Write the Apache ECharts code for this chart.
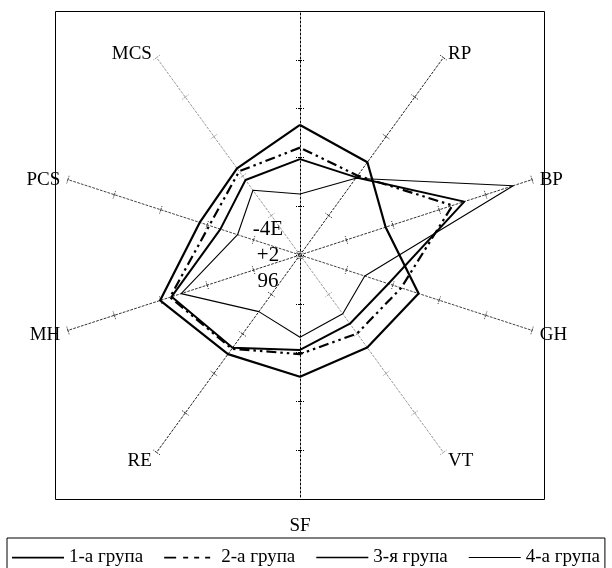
<!DOCTYPE html>
<html>
<head>
<meta charset="utf-8">
<script src="https://cdn.jsdelivr.net/npm/echarts@6/dist/echarts.min.js"></script>
<style>
html,body{margin:0;padding:0;background:#fff;}
#chart{width:612px;height:568px;}
</style>
</head>
<body>
<div id="chart"></div>
<script>
// Categories in clockwise order, starting at the top spoke
const categories = ['PF', 'RP', 'BP', 'GH', 'VT', 'SF', 'RE', 'MH', 'PCS', 'MCS'];
const groupNames = ['1-а група', '2-а група', '3-я група', '4-а група'];
const group1 = [53.3, 47.0, 36.9, 51.1, 46.9, 49.9, 50.2, 60.3, 43.2, 43.9];
const group2 = [44.0, 40.2, 65.7, 43.6, 39.8, 40.6, 47.5, 56.0, 39.1, 42.4];
const group3 = [39.3, 39.3, 70.8, 38.1, 34.8, 38.9, 47.0, 55.3, 34.3, 38.0];
const group4 = [25.0, 38.9, 91.9, 27.9, 29.8, 33.7, 28.7, 51.2, 26.9, 32.8];
const axisMin = 0;
const axisMax = 100;
const splitCount = 5;
const centerLabel = ['-4E', '+2', '96'];
const hiddenNames = ['PF'];

const CX = 300, CY = 255, R = 244;
const FONT = '"Liberation Serif", "Times New Roman", serif';

// ECharts places radar indicators counter-clockwise from startAngle
const toRadarOrder = arr => [arr[0]].concat(arr.slice(1).reverse());

const mainIndicators = toRadarOrder(categories).map(n => ({ name: n, min: axisMin, max: axisMax }));

// spokes: each a two-indicator radar (a diameter) with its own line style
const spokeStyles = [
  { angle: 90, color: '#000000' },
  { angle: 54, color: '#222222' },
  { angle: 18, color: '#333333' },
  { angle: -18, color: '#444444' },
  { angle: -54, color: '#9a9a9a' }
];

const radars = [{
  center: [CX, CY],
  radius: R,
  startAngle: 90,
  splitNumber: splitCount,
  indicator: mainIndicators,
  axisLine: { show: false },
  axisTick: { show: false },
  axisLabel: { show: false },
  splitLine: { show: false },
  splitArea: { show: false },
  nameGap: 8,
  axisName: {
    color: '#000',
    fontFamily: FONT,
    fontSize: 19,
    padding: [5, 0, 0, 0],
    formatter: function (name) {
      if (hiddenNames.indexOf(name) >= 0) return '';
      if (name === 'SF') return '{sf|SF}';
      return name;
    },
    rich: {
      sf: { padding: [5, 0, 0, 0], fontFamily: FONT, fontSize: 19, color: '#000' }
    }
  },
  silent: true
}];

spokeStyles.forEach(function (s) {
  [4, -4].forEach(function (len, k) {
    radars.push({
      center: [CX, CY],
      radius: R,
      startAngle: s.angle,
      splitNumber: splitCount,
      indicator: [{ name: '', min: axisMin, max: axisMax }, { name: '', min: axisMin, max: axisMax }],
      axisName: { show: false },
      axisLine: { show: k === 0, lineStyle: { color: s.color, width: 1, type: [2, 2] } },
      axisTick: { show: true, length: len, lineStyle: { color: s.color, width: 1, type: [2, 1] } },
      axisLabel: { show: false },
      splitLine: { show: false },
      splitArea: { show: false },
      silent: true
    });
  });
});

const groupData = [group1, group2, group3, group4];
const groupLines = [
  { width: 2.2, type: 'solid' },
  { width: 2.2, type: [10, 4, 2.5, 4, 2.5, 4] },
  { width: 2.0, type: 'solid' },
  { width: 1.1, type: 'solid' }
];

const series = groupData.map(function (vals, i) {
  return {
    type: 'radar',
    radarIndex: 0,
    name: groupNames[i],
    symbol: 'none',
    silent: true,
    z: 5,
    itemStyle: { color: '#000' },
    lineStyle: { color: '#000', width: groupLines[i].width, type: groupLines[i].type },
    data: [{ name: groupNames[i], value: toRadarOrder(vals) }]
  };
});

const boxTop = 'M0,0 M52,14 ';
const legendIcons = [
  'path://' + boxTop + 'M0,6.2 h52 v1.7 h-52 Z',
  'path://' + boxTop + 'M0,6.2 h12 v1.7 h-12 Z M19,6.2 h5 v1.7 h-5 Z M30,6.2 h5 v1.7 h-5 Z M41,6.2 h5 v1.7 h-5 Z',
  'path://' + boxTop + 'M0,6.2 h52 v1.6 h-52 Z',
  'path://' + boxTop + 'M0,6.4 h52 v1.2 h-52 Z'
];

const option = {
  animation: false,
  backgroundColor: '#fff',
  radar: radars,
  legend: {
    left: 7,
    top: 538,
    orient: 'horizontal',
    padding: [10, 5, 12, 5],
    itemGap: 21,
    itemWidth: 52,
    itemHeight: 14,
    borderColor: '#000',
    borderWidth: 1,
    selectedMode: false,
    itemStyle: { color: '#000', borderWidth: 0 },
    textStyle: { color: '#000', fontFamily: FONT, fontSize: 19 },
    data: groupNames.map((n, i) => ({ name: n, icon: legendIcons[i] }))
  },
  graphic: [
    {
      type: 'rect',
      z: -10,
      silent: true,
      shape: { x: 55.5, y: 11.5, width: 489, height: 488 },
      style: { fill: 'none', stroke: '#000', lineWidth: 1 }
    },
    {
      type: 'text',
      z: 10,
      silent: true,
      x: 268,
      y: 255,
      style: {
        text: centerLabel.join('\n'),
        fill: '#000',
        font: '21px ' + FONT,
        lineHeight: 26,
        align: 'center',
        verticalAlign: 'middle'
      }
    }
  ],
  series: series
};

const chart = echarts.init(document.getElementById('chart'), null, { renderer: 'canvas' });
chart.setOption(option);
</script>
</body>
</html>
